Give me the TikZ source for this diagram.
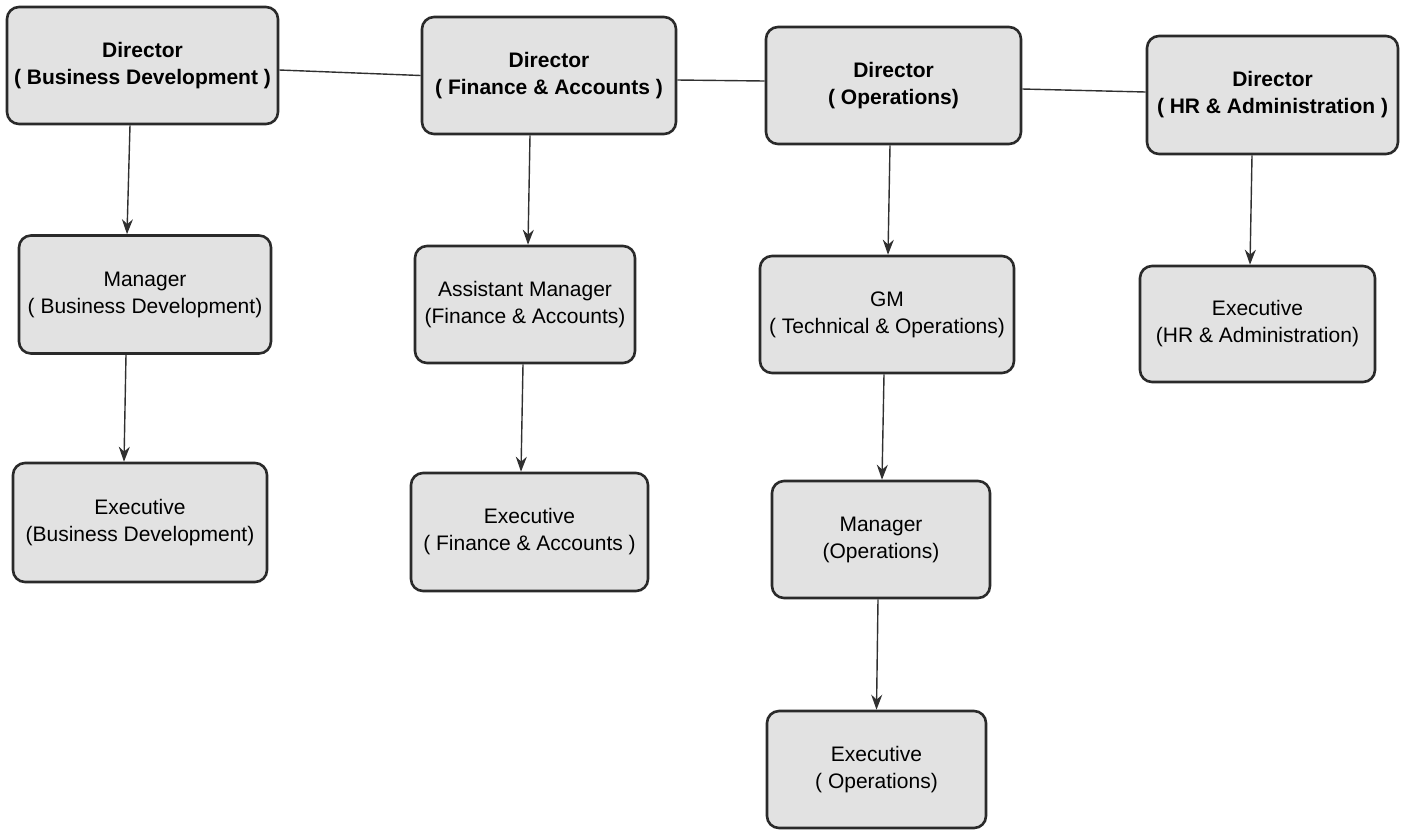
\documentclass[tikz,border=0pt]{standalone}
\usepackage{fontspec}
\setmainfont{Liberation Sans}
\usetikzlibrary{arrows.meta}
\definecolor{boxfill}{HTML}{E2E2E2}
\definecolor{boxline}{HTML}{2A2A2A}
\definecolor{linecol}{HTML}{303030}
\tikzset{
  orgbox/.style={draw=boxline, fill=boxfill, line width=1.3pt, rounded corners=6pt,
    align=center, inner sep=2pt, font=\fontsize{10.5}{13.5}\selectfont},
  dirbox/.style={orgbox, font=\fontsize{10.5}{13.5}\selectfont\bfseries},
  link/.style={draw=linecol, line width=0.7pt},
  arr/.style={link, -{Stealth[length=7.5pt,width=5.5pt]}}
}
\begin{document}
\begin{tikzpicture}[x=0.5pt,y=-0.5pt]
\useasboundingbox (0,0) rectangle (1401,832);
% Directors
\node[dirbox, minimum width=135.5pt, minimum height=58.5pt] (dBD) at (142.5,65.5) {Director\\( Business Development )};
\node[dirbox, minimum width=127pt, minimum height=58.5pt] (dFA) at (549,75.5) {Director\\( Finance \& Accounts )};
\node[dirbox, minimum width=127.5pt, minimum height=58.5pt] (dOps) at (893.5,85.5) {Director\\( Operations)};
\node[dirbox, minimum width=125.5pt, minimum height=59pt] (dHR) at (1272.5,95) {Director\\( HR \& Administration )};
% second row
\node[orgbox, minimum width=126pt, minimum height=59pt] (mBD) at (145,294.5) {Manager\\( Business Development)};
\node[orgbox, minimum width=110pt, minimum height=58.5pt] (amFA) at (525,304.5) {Assistant Manager\\(Finance \& Accounts)};
\node[orgbox, minimum width=127pt, minimum height=58.5pt] (gm) at (887,314.5) {GM\\( Technical \& Operations)};
\node[orgbox, minimum width=117.5pt, minimum height=58pt] (eHR) at (1257.5,324) {Executive\\(HR \& Administration)};
% third row
\node[orgbox, minimum width=127pt, minimum height=59.5pt] (eBD) at (140,522.5) {Executive\\(Business Development)};
\node[orgbox, minimum width=118.5pt, minimum height=59pt] (eFA) at (529.5,532) {Executive\\( Finance \& Accounts )};
\node[orgbox, minimum width=109pt, minimum height=58.5pt] (mOps) at (881,539.5) {Manager\\(Operations)};
% fourth row
\node[orgbox, minimum width=109.5pt, minimum height=58.5pt] (eOps) at (876.5,769.5) {Executive\\( Operations)};
% director links
\draw[link] ([yshift=-2.25pt]dBD.east) -- (dFA.west);
\draw[link] ([yshift=-2.25pt]dFA.east) -- ([yshift=2.25pt]dOps.west);
\draw[link] ([yshift=-1.75pt]dOps.east) -- ([yshift=1.5pt]dHR.west);
% arrows
\draw[arr] ([xshift=-6.25pt]dBD.south) -- ([xshift=-9pt]mBD.north);
\draw[arr] ([xshift=-9.5pt]mBD.south) -- ([xshift=-8pt]eBD.north);
\draw[arr] ([xshift=-9.5pt]dFA.south) -- ([xshift=1.5pt]amFA.north);
\draw[arr] ([xshift=-1pt]amFA.south) -- ([xshift=-4.25pt]eFA.north);
\draw[arr] ([xshift=-1.75pt]dOps.south) -- ([xshift=0.5pt]gm.north);
\draw[arr] ([xshift=-1.5pt]gm.south) -- ([xshift=0.5pt]mOps.north);
\draw[arr] ([xshift=-1.5pt]mOps.south) -- (eOps.north);
\draw[arr] ([xshift=-10.25pt]dHR.south) -- ([xshift=-3.75pt]eHR.north);
\end{tikzpicture}
\end{document}
